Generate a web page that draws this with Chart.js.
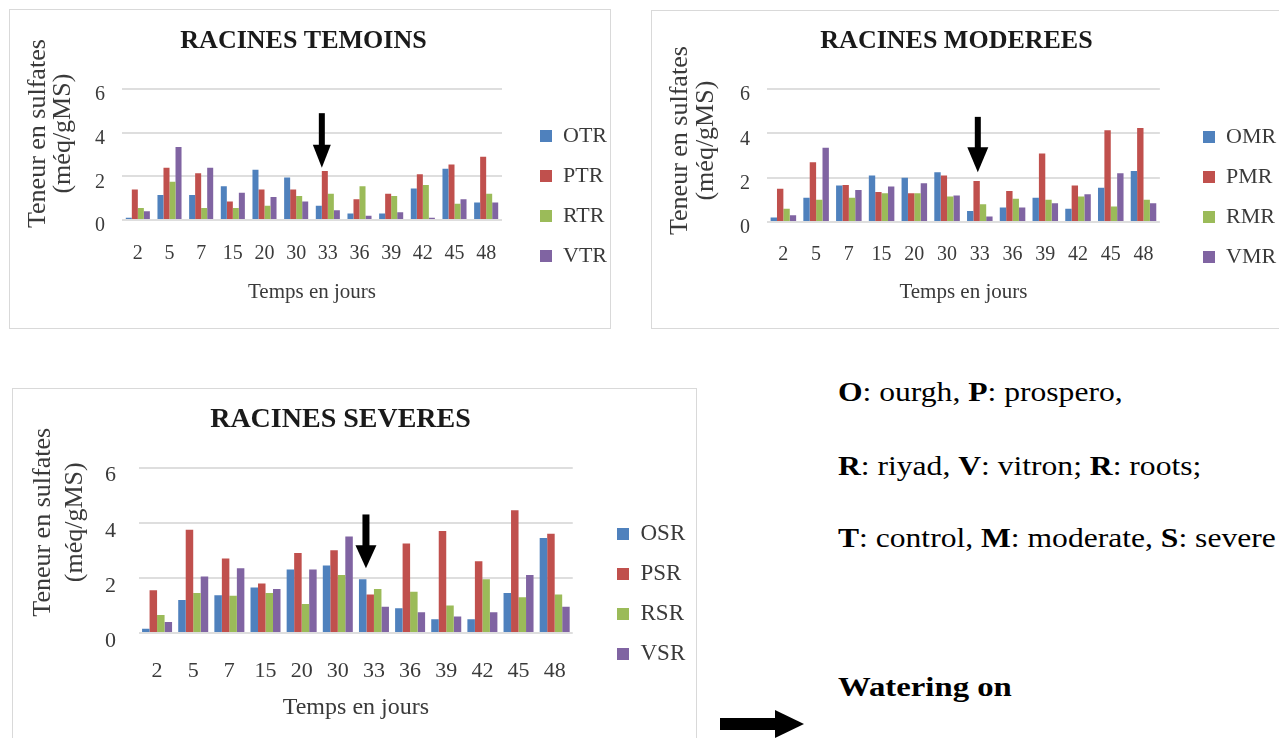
<!DOCTYPE html>
<html>
<head>
<meta charset="utf-8">
<script src="https://cdn.jsdelivr.net/npm/chart.js@4.4.1/dist/chart.umd.min.js"></script>
<style>
  body { margin: 0; width: 1279px; height: 738px; overflow: hidden; position: relative; background: #fff; font-family: 'Liberation Serif', 'Times New Roman', serif; }
  .box { position: absolute; border: 1px solid #d9d9d9; background: #fff; }
  .box canvas { display: block; }
  .note { position: absolute; left: 838px; font-size: 27px; line-height: 27px; color: #000; white-space: nowrap; transform: scaleX(1.17); transform-origin: left center; }
  .watering { font-weight: bold; font-size: 28px; line-height: 28px; }
  #bigArrow { position: absolute; left: 720px; top: 710px; }
</style>
</head>
<body>

<div class="box" style="left:9px;top:9px;width:600px;height:318px"><canvas id="temoins" width="600" height="318"></canvas></div>
<div class="box" style="left:651px;top:10px;width:640px;height:317px"><canvas id="moderees" width="627" height="317"></canvas></div>
<div class="box" style="left:12px;top:388px;width:683px;height:360px"><canvas id="severes" width="683" height="349"></canvas></div>

<div class="note" style="top:379px"><b>O</b>: ourgh, <b>P</b>: prospero,</div>
<div class="note" style="top:453px"><b>R</b>: riyad, <b>V</b>: vitron; <b>R</b>: roots;</div>
<div class="note" style="top:525px"><b>T</b>: control, <b>M</b>: moderate, <b>S</b>: severe</div>
<div class="note watering" style="top:673px">Watering on</div>

<svg id="bigArrow" width="84" height="28" viewBox="0 0 84 28">
  <rect x="0" y="8" width="57" height="12" fill="#000"></rect>
  <polygon points="55,0 84,14 55,28" fill="#000"></polygon>
</svg>

<script>
const SERIF = "'Liberation Serif', 'Times New Roman', serif";

// sampling days (x axis)
const days = ['2', '5', '7', '15', '20', '30', '33', '36', '39', '42', '45', '48'];

// Racines témoins
const otr = [0.1, 1.15, 1.15, 1.55, 2.3, 1.95, 0.65, 0.3, 0.3, 1.45, 2.35, 0.8];
const ptr = [1.4, 2.4, 2.15, 0.85, 1.4, 1.4, 2.25, 0.95, 1.2, 2.1, 2.55, 2.9];
const rtr = [0.55, 1.75, 0.55, 0.55, 0.65, 1.1, 1.2, 1.55, 1.1, 1.6, 0.75, 1.2];
const vtr = [0.4, 3.35, 2.4, 1.25, 1.05, 0.85, 0.45, 0.2, 0.35, 0.1, 0.95, 0.8];

// Racines modérées
const omr = [0.2, 1.1, 1.65, 2.1, 2.0, 2.25, 0.5, 0.65, 1.1, 0.6, 1.55, 2.3];
const pmr = [1.5, 2.7, 1.67, 1.35, 1.3, 2.1, 1.85, 1.4, 3.1, 1.65, 4.15, 4.25];
const rmr = [0.6, 1.0, 1.1, 1.3, 1.3, 1.15, 0.8, 1.05, 1.0, 1.15, 0.7, 1.0];
const vmr = [0.3, 3.35, 1.45, 1.6, 1.75, 1.2, 0.25, 0.65, 0.85, 1.25, 2.2, 0.85];

// Racines sévères
const osr = [0.15, 1.2, 1.37, 1.65, 2.3, 2.45, 1.95, 0.9, 0.5, 0.5, 1.45, 3.45];
const psr = [1.55, 3.75, 2.7, 1.8, 2.9, 3.0, 1.4, 3.25, 3.7, 2.6, 4.45, 3.6];
const rsr = [0.65, 1.45, 1.35, 1.45, 1.05, 2.1, 1.6, 1.5, 1.0, 1.95, 1.3, 1.4];
const vsr = [0.4, 2.05, 2.35, 1.6, 2.3, 3.5, 0.95, 0.75, 0.6, 0.75, 2.1, 0.95];

// y axis ticks and title
const yTicks = [0, 2, 4, 6];
const yTitleLines = ['Teneur en sulfates', '(méq/gMS)'];
const xTitle = 'Temps en jours';

// watering arrow: day, then [top, tip] in axis units
const arrowDay = '33';
const arrowTemoins = [4.9, 2.4];
const arrowModerees = [4.75, 2.25];
const arrowSeveres = [4.3, 2.35];

const seriesColors = ['#4F81BD', '#C0504D', '#9BBB59', '#8064A2'];
const TEXT_GREY = '#3a3a3a';

/**
 * Move the legend box so its first item is centred on a fixed spot
 */
const legendPlace = {
  id: 'legendPlace',
  afterLayout(chart, args, opts) {
    const lg = chart.legend;
    if (!lg || !lg.columnSizes || !lg.columnSizes.length) return;
    const pad = opts.pad;
    const colH = lg.columnSizes[0].height;
    const w = lg.width;
    const top = opts.y - pad - opts.size / 2;
    lg.left = opts.x - pad;
    lg.right = lg.left + w;
    lg.top = top;
    lg.bottom = top + colH + pad;
    lg.height = lg.bottom - lg.top;
  }
};

/**
 * Two-line rotated y axis title, placed beside the axis
 */
const yAxisTitle = {
  id: 'yAxisTitle',
  afterDraw(chart, args, opts) {
    const { ctx, chartArea } = chart;
    const cy = (chartArea.top + chartArea.bottom) / 2 + opts.dy;
    ctx.save();
    ctx.fillStyle = TEXT_GREY;
    ctx.font = opts.size + 'px ' + SERIF;
    ctx.textAlign = 'center';
    ctx.textBaseline = 'middle';
    yTitleLines.forEach((line, k) => {
      ctx.save();
      ctx.translate(opts.x[k], cy);
      ctx.rotate(-Math.PI / 2);
      ctx.fillText(line, 0, 0);
      ctx.restore();
    });
    ctx.restore();
  }
};

/**
 * Black down arrow marking the day watering started
 */
const wateringArrow = {
  id: 'wateringArrow',
  afterDatasetsDraw(chart, args, opts) {
    const { ctx, scales: { x, y } } = chart;
    const i = chart.data.labels.indexOf(opts.day);
    if (i < 0) return;
    const cx = x.getPixelForValue(i) + opts.dx;
    const top = y.getPixelForValue(opts.from);
    const tip = y.getPixelForValue(opts.to);
    ctx.save();
    ctx.fillStyle = '#000';
    ctx.fillRect(cx - opts.shaft / 2, top, opts.shaft, tip - opts.head - top + 1);
    ctx.beginPath();
    ctx.moveTo(cx - opts.headW / 2, tip - opts.head);
    ctx.lineTo(cx + opts.headW / 2, tip - opts.head);
    ctx.lineTo(cx, tip);
    ctx.closePath();
    ctx.fill();
    ctx.restore();
  }
};

function makeChart(canvasId, title, names, series, arrow, geo) {
  const canvas = document.getElementById(canvasId);
  return new Chart(canvas, {
    type: 'bar',
    data: {
      labels: days,
      datasets: names.map((name, i) => ({
        label: name,
        data: series[i],
        backgroundColor: seriesColors[i],
        borderWidth: 0,
        categoryPercentage: geo.cat,
        barPercentage: 1
      }))
    },
    options: {
      responsive: false,
      animation: false,
      layout: { padding: { left: 0, right: geo.padRight, top: 0, bottom: 0 } },
      plugins: {
        title: {
          display: true,
          text: title,
          color: '#1a1a1a',
          font: { family: SERIF, size: geo.titleSize, weight: 'bold' },
          padding: { top: geo.titleTop, bottom: geo.titleBottom }
        },
        legend: {
          position: 'right',
          labels: {
            boxWidth: 12,
            boxHeight: 12,
            color: TEXT_GREY,
            font: { family: SERIF, size: geo.legendSize },
            padding: geo.legendPad
          }
        },
        tooltip: { enabled: false },
        legendPlace: { x: geo.legendX, y: geo.legendY, pad: geo.legendPad, size: geo.legendSize },
        yAxisTitle: { x: geo.yTitleX, dy: geo.yTitleDy, size: 26 },
        wateringArrow: Object.assign({ day: arrowDay, from: arrow[0], to: arrow[1] }, geo.arrow)
      },
      scales: {
        x: {
          grid: { display: false, drawTicks: false },
          border: { display: false },
          ticks: {
            color: TEXT_GREY,
            font: { family: SERIF, size: geo.tickSize },
            padding: geo.xTickPad,
            maxRotation: 0,
            autoSkip: false
          },
          title: {
            display: true,
            text: xTitle,
            color: TEXT_GREY,
            font: { family: SERIF, size: geo.xTitleSize },
            padding: { top: 0, bottom: geo.xTitlePad }
          },
          afterFit: (scale) => { scale.height = geo.xHeight; }
        },
        y: {
          min: yTicks[0],
          max: yTicks[yTicks.length - 1],
          afterBuildTicks: (scale) => { scale.ticks = yTicks.map(v => ({ value: v })); },
          grid: { color: '#dedede', lineWidth: 2, drawTicks: false },
          border: { display: false },
          ticks: {
            color: TEXT_GREY,
            font: { family: SERIF, size: geo.tickSize },
            padding: geo.yTickPad,
            labelOffset: geo.yLabelOffset
          },
          afterFit: (scale) => { scale.width = geo.yWidth; }
        }
      }
    },
    plugins: [legendPlace, yAxisTitle, wateringArrow]
  });
}

makeChart('temoins', 'RACINES TEMOINS', ['OTR', 'PTR', 'RTR', 'VTR'], [otr, ptr, rtr, vtr], arrowTemoins, {
  cat: 0.76, padRight: 13,
  titleSize: 26, titleTop: 16, titleBottom: 32,
  legendSize: 22, legendPad: 18, legendX: 530, legendY: 126,
  tickSize: 20, xTickPad: 22, xTitleSize: 21, xTitlePad: 23, xHeight: 108,
  yTickPad: 17, yLabelOffset: 6, yWidth: 112,
  yTitleX: [28, 53], yTitleDy: -21,
  arrow: { dx: -6, shaft: 6, head: 23, headW: 18 }
});

makeChart('moderees', 'RACINES MODEREES', ['OMR', 'PMR', 'RMR', 'VMR'], [omr, pmr, rmr, vmr], arrowModerees, {
  cat: 0.78, padRight: 18,
  titleSize: 26, titleTop: 15, titleBottom: 32,
  legendSize: 22, legendPad: 18, legendX: 551, legendY: 126,
  tickSize: 20, xTickPad: 21, xTitleSize: 21, xTitlePad: 23, xHeight: 106,
  yTickPad: 17, yLabelOffset: 6, yWidth: 115,
  yTitleX: [28, 54], yTitleDy: -15,
  arrow: { dx: -2, shaft: 6, head: 25, headW: 21 }
});

makeChart('severes', 'RACINES SEVERES', ['OSR', 'PSR', 'RSR', 'VSR'], [osr, psr, rsr, vsr], arrowSeveres, {
  cat: 0.83, padRight: 28,
  titleSize: 28, titleTop: 14, titleBottom: 31,
  legendSize: 23, legendPad: 17, legendX: 604, legendY: 145,
  tickSize: 22, xTickPad: 25, xTitleSize: 24, xTitlePad: 16, xHeight: 105,
  yTickPad: 23, yLabelOffset: 8, yWidth: 126,
  yTitleX: [30, 62], yTitleDy: -28,
  arrow: { dx: -8, shaft: 7, head: 23, headW: 21 }
});
</script>
</body>
</html>
